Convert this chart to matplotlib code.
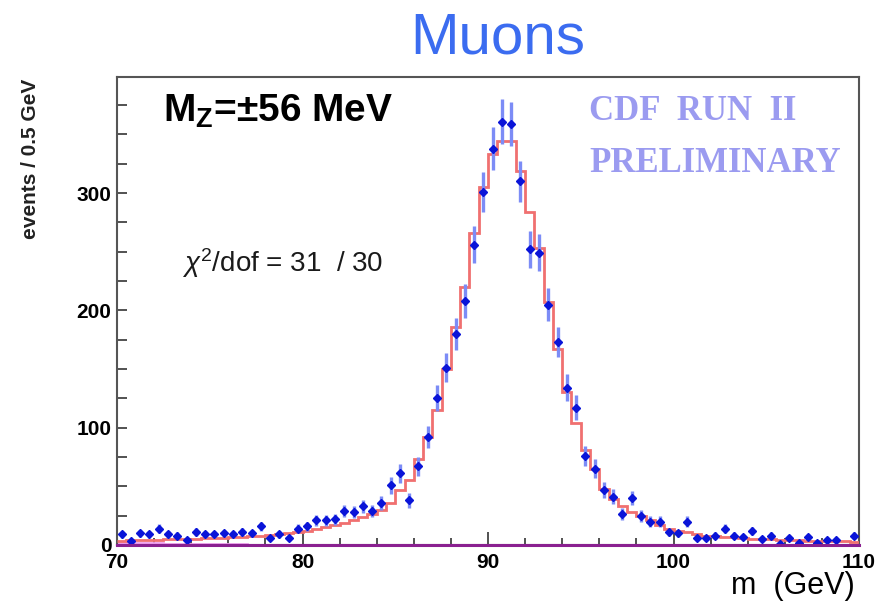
import numpy as np
import matplotlib
matplotlib.use("Agg")
import matplotlib.pyplot as plt
from matplotlib.ticker import MultipleLocator

plt.rcParams['font.family'] = ['Liberation Sans', 'DejaVu Sans']
plt.rcParams['mathtext.fontset'] = 'custom'
plt.rcParams['mathtext.rm'] = 'Liberation Sans'
plt.rcParams['mathtext.it'] = 'Liberation Sans:italic'
plt.rcParams['mathtext.bf'] = 'Liberation Sans:bold'

# dimuon mass, 0.5 GeV bins from 70 to 110
edges = np.arange(70.0, 110.01, 0.5)
centers = 0.5 * (edges[:-1] + edges[1:])

# observed events per bin
counts = np.array([
    9, 3, 10, 9, 14, 9, 8, 4, 11, 9,
    9, 10, 9, 11, 10, 16, 6, 9, 6, 14,
    16, 21, 21, 22, 29, 28, 33, 29, 36, 51,
    61, 38, 67, 92, 125, 151, 180, 208, 256, 301,
    338, 361, 359, 310, 252, 249, 205, 173, 134, 117,
    76, 65, 47, 41, 26, 40, 25, 20, 20, 11,
    10, 20, 6, 6, 8, 14, 8, 7, 12, 5,
    8, 1, 6, 2, 7, 2, 4, 4, 0, 8])

# fitted template
fit = np.array([
    3.8, 4.0, 4.2, 4.4, 4.6, 4.8, 5.0, 5.2, 5.5, 5.7,
    6.0, 6.2, 6.5, 7.0, 7.5, 8.0, 8.5, 9.0, 10, 11,
    12, 14, 15, 17, 19, 21, 24, 26, 30, 36,
    47, 55, 73, 92, 115, 150, 186, 220, 266, 305,
    333, 344, 344, 319, 284, 253, 207, 167, 130, 104,
    81, 65, 48, 39, 33, 28, 25, 21, 17, 14,
    12, 11, 9, 8, 7.5, 7, 6.5, 6, 5.5, 5,
    4.8, 4.5, 4.3, 4.0, 3.8, 3.6, 3.4, 3.2, 3.0, 2.8])

# background component
bkg = np.array([1.5, 1.5, 1.4, 1.4, 1.3, 1.2, 1.2, 1.1, 1.0, 0.9,
                0.8, 0.7, 0.6, 0.5, 0.4, 0.3, 0.2, 0.1] + [0.0] * 62)

xticks = [70, 80, 90, 100, 110]
yticks = [0, 100, 200, 300]

fig = plt.figure(figsize=(8.92, 6.06), dpi=100)
ax = fig.add_axes([0.1312, 0.1007, 0.8318, 0.7723])

ax.stairs(bkg, edges, baseline=None, color='#f0a0f0', lw=2.0, zorder=2)
ax.stairs(fit, edges, baseline=None, color='#f07070', lw=2.0, zorder=3)

ok = counts > 0
ax.errorbar(centers[ok], counts[ok], yerr=np.sqrt(counts[ok]), fmt='D',
            ms=4.5, color='#0a14d8', ecolor='#7c8cf6', elinewidth=2.4,
            capsize=0, zorder=4)

ax.axhline(0, color='#8a2090', lw=2.2, zorder=5, clip_on=False)

ax.set_xlim(70, 110)
ax.set_ylim(0, 399)

ax.set_xticks(xticks, [str(t) for t in xticks], fontsize=15, fontweight='bold')
ax.set_yticks(yticks, [str(t) for t in yticks], fontsize=15, fontweight='bold')
ax.xaxis.set_minor_locator(MultipleLocator(2))
ax.yaxis.set_minor_locator(MultipleLocator(25))
ax.tick_params(axis='both', which='both', direction='in', top=False, right=False,
               color='#333333', width=1.2)
ax.tick_params(axis='x', which='major', length=9.5, pad=6)
ax.tick_params(axis='x', which='minor', length=5)
ax.tick_params(axis='y', which='major', length=7.5, pad=4)
ax.tick_params(axis='y', which='minor', length=7.5)
for sp in ax.spines.values():
    sp.set_color('#555555')
    sp.set_linewidth(1.5)

fig.text(0.558, 0.9125, 'Muons', color='#3b6cf0', fontsize=42,
         ha='center', va='baseline')
fig.text(0.034, 0.87, 'events / 0.5 GeV', rotation=90, fontsize=15,
         fontweight='bold', color='#222222', ha='center', va='top')
fig.text(0.958, 0.008, 'm  (GeV)', fontsize=22, ha='right', va='bottom')

ax.text(0.062, 0.904, r'$\mathbf{M_{Z}}$=±56 MeV', transform=ax.transAxes,
        fontsize=28, fontweight='bold', ha='left', va='baseline')
ax.text(0.0876, 0.583, r'$\chi^{2}$/dof = 31  / 30', transform=ax.transAxes,
        fontsize=20, color='#1a1a1a', ha='left', va='baseline')
ax.text(0.636, 0.908, 'CDF  RUN  II', transform=ax.transAxes,
        family=['Liberation Serif', 'DejaVu Serif'], fontweight='bold',
        fontsize=25, color='#9b9bf0', ha='left', va='baseline')
ax.text(0.636, 0.797, 'PRELIMINARY', transform=ax.transAxes,
        family=['Liberation Serif', 'DejaVu Serif'], fontweight='bold',
        fontsize=25, color='#9b9bf0', ha='left', va='baseline')

fig.savefig('out.png', dpi=100)
